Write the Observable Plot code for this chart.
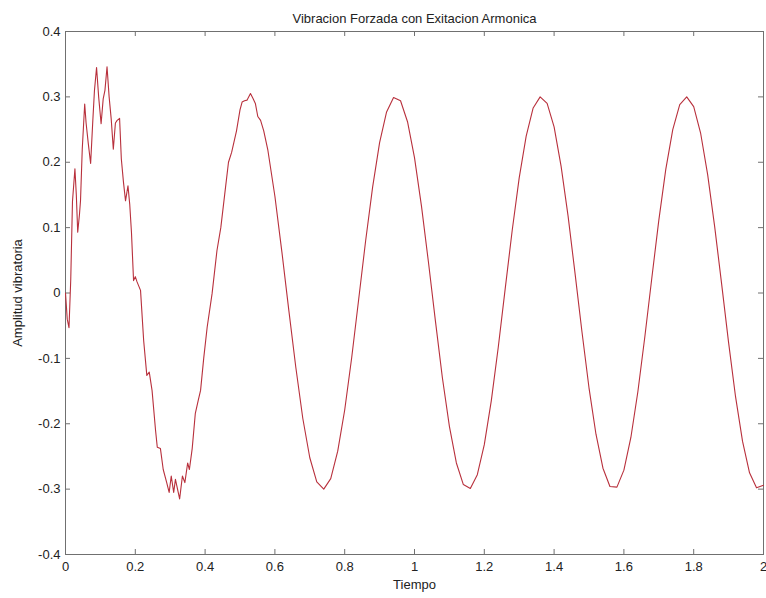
<!DOCTYPE html>
<html>
<head>
<meta charset="utf-8">
<script src="https://cdn.jsdelivr.net/npm/d3@7"></script>
<script src="https://cdn.jsdelivr.net/npm/@observablehq/plot@0.6"></script>
<style>
  html, body { margin: 0; padding: 0; background: #fff; }
  #chart svg { display: block; }
</style>
</head>
<body>
<div id="chart"></div>
<script>
// Tiempo (s) and Amplitud vibratoria
const tiempo = [
  0.000, 0.005, 0.010, 0.015, 0.020, 0.027, 0.031, 0.035, 0.040, 0.043,
  0.048, 0.055, 0.059, 0.065, 0.072, 0.078, 0.083, 0.089, 0.095, 0.102,
  0.108, 0.113, 0.119, 0.125, 0.131, 0.137, 0.143, 0.148, 0.155, 0.160,
  0.166, 0.172, 0.179, 0.184, 0.189, 0.195, 0.200, 0.205, 0.215, 0.224,
  0.233, 0.240, 0.248, 0.258, 0.263, 0.272, 0.280, 0.290, 0.297, 0.303,
  0.310, 0.315, 0.327, 0.335, 0.342, 0.350, 0.355, 0.363, 0.372, 0.380,
  0.387, 0.396, 0.406, 0.420, 0.434, 0.445, 0.456, 0.467, 0.476, 0.490,
  0.500, 0.506, 0.513, 0.520, 0.530, 0.537, 0.544, 0.551, 0.559, 0.568,
  0.58, 0.60, 0.62, 0.64, 0.66, 0.68, 0.70, 0.72, 0.74, 0.76,
  0.78, 0.80, 0.82, 0.84, 0.86, 0.88, 0.90, 0.92, 0.94, 0.96,
  0.98, 1.00, 1.02, 1.04, 1.06, 1.08, 1.10, 1.12, 1.14, 1.16,
  1.18, 1.20, 1.22, 1.24, 1.26, 1.28, 1.30, 1.32, 1.34, 1.36,
  1.38, 1.40, 1.42, 1.44, 1.46, 1.48, 1.50, 1.52, 1.54, 1.56,
  1.58, 1.60, 1.62, 1.64, 1.66, 1.68, 1.70, 1.72, 1.74, 1.76,
  1.78, 1.80, 1.82, 1.84, 1.86, 1.88, 1.90, 1.92, 1.94, 1.96,
  1.98, 2.00
];
const amplitud = [
  0.000, -0.040, -0.053, 0.020, 0.140, 0.190, 0.150, 0.093, 0.120, 0.141,
  0.220, 0.289, 0.260, 0.230, 0.198, 0.261, 0.310, 0.345, 0.300, 0.259,
  0.297, 0.310, 0.346, 0.300, 0.266, 0.220, 0.260, 0.264, 0.267, 0.205,
  0.170, 0.141, 0.164, 0.136, 0.093, 0.019, 0.025, 0.017, 0.004, -0.073,
  -0.126, -0.121, -0.149, -0.210, -0.236, -0.238, -0.270, -0.290, -0.305, -0.280,
  -0.305, -0.285, -0.315, -0.280, -0.290, -0.260, -0.270, -0.238, -0.184, -0.165,
  -0.149, -0.100, -0.052, -0.001, 0.065, 0.100, 0.150, 0.200, 0.215, 0.248,
  0.280, 0.292, 0.294, 0.295, 0.305, 0.298, 0.290, 0.270, 0.264, 0.248,
  0.218, 0.148, 0.063, -0.027, -0.114, -0.192, -0.252, -0.289, -0.300, -0.284,
  -0.242, -0.179, -0.099, -0.010, 0.080, 0.162, 0.230, 0.277, 0.299, 0.294,
  0.262, 0.207, 0.133, 0.047, -0.043, -0.130, -0.204, -0.260, -0.293, -0.299,
  -0.278, -0.232, -0.165, -0.083, 0.007, 0.096, 0.176, 0.240, 0.283, 0.300,
  0.290, 0.254, 0.194, 0.118, 0.030, -0.060, -0.145, -0.216, -0.268, -0.296,
  -0.297, -0.271, -0.221, -0.151, -0.067, 0.023, 0.111, 0.189, 0.250, 0.288,
  0.300, 0.285, 0.244, 0.181, 0.102, 0.014, -0.076, -0.159, -0.227, -0.275,
  -0.298, -0.294
];
const xTicks = [0, 0.2, 0.4, 0.6, 0.8, 1, 1.2, 1.4, 1.6, 1.8, 2];
const yTicks = [-0.4, -0.3, -0.2, -0.1, 0, 0.1, 0.2, 0.3, 0.4];
const titulo = "Vibracion Forzada con Exitacion Armonica";
const etiquetaX = "Tiempo";
const etiquetaY = "Amplitud vibratoria";

const data = tiempo.map((t, i) => ({t, v: amplitud[i]}));
const fmt = d => String(+d.toFixed(1));
const axisColor = "#707070";

const W = 766, H = 598, mT = 31, mL = 65, mR = 3, mB = 44;
const innerW = W - mL - mR, innerH = H - mT - mB, tick = 5;

const chart = Plot.plot({
  width: W,
  height: H,
  marginTop: mT,
  marginLeft: mL,
  marginRight: mR,
  marginBottom: mB,
  style: {fontFamily: "'Liberation Sans', Arial, sans-serif", fontSize: "13px", color: "#222", background: "#fff"},
  x: {domain: [0, 2]},
  y: {domain: [-0.4, 0.4]},
  marks: [
    Plot.frame({stroke: axisColor, strokeWidth: 1}),
    // inward ticks on all four sides
    Plot.tickX(xTicks, {x: d => d, insetTop: innerH - tick, stroke: axisColor}),
    Plot.tickX(xTicks, {x: d => d, insetBottom: innerH - tick, stroke: axisColor}),
    Plot.tickY(yTicks, {y: d => d, insetRight: innerW - tick, stroke: axisColor}),
    Plot.tickY(yTicks, {y: d => d, insetLeft: innerW - tick, stroke: axisColor}),
    Plot.axisX(xTicks, {anchor: "bottom", tickSize: 0, tickPadding: 7, tickFormat: fmt,
      label: etiquetaX, labelAnchor: "center", labelArrow: "none", labelOffset: 34, fontSize: 13}),
    Plot.axisY(yTicks, {anchor: "left", tickSize: 0, tickPadding: 5, tickFormat: fmt,
      label: etiquetaY, labelAnchor: "center", labelOffset: 53, labelArrow: "none", fontSize: 13}),
    Plot.line(data, {x: "t", y: "v", stroke: "#b8303c", strokeWidth: 1.1}),
    Plot.text([titulo], {frameAnchor: "top", dy: -18, fontSize: 13, fill: "#222"})
  ]
});
document.getElementById("chart").appendChild(chart);
</script>
</body>
</html>
